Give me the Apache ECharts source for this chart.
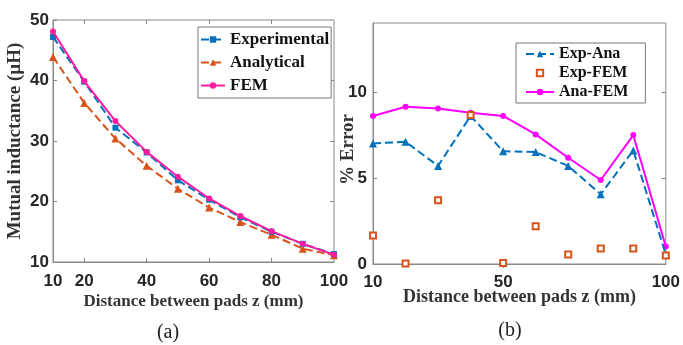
<!DOCTYPE html>
<html>
<head>
<meta charset="utf-8">
<script src="https://cdn.jsdelivr.net/npm/echarts@6/dist/echarts.min.js"></script>
<style>
  html, body { margin: 0; padding: 0; background: #fff; }
  #main { width: 683px; height: 345px; }
</style>
</head>
<body>
<div id="main"></div>
<script>
// (a) mutual inductance vs distance
const distA = [10, 20, 30, 40, 50, 60, 70, 80, 90, 100];
const experimental = [47.2, 39.8, 32.2, 28.1, 23.5, 20.3, 17.4, 15.0, 13.0, 11.3];
const analytical = [43.9, 36.3, 30.4, 25.9, 22.1, 19.0, 16.6, 14.5, 12.2, 11.1];
const fem = [48.1, 39.9, 33.3, 28.2, 24.1, 20.5, 17.6, 15.1, 13.0, 11.2];
const xLabelsA = [10, 20, 40, 60, 80, 100];
const yLabelsA = [10, 20, 30, 40, 50];

// (b) percent error vs distance
const distB = [10, 20, 30, 40, 50, 60, 70, 80, 90, 100];
const expAna = [7.0, 7.1, 5.7, 8.6, 6.55, 6.5, 5.7, 4.05, 6.6, 0.55];
const expFem = [1.65, 0.03, 3.7, 8.65, 0.06, 2.2, 0.55, 0.9, 0.9, 0.5];
const anaFem = [8.6, 9.13, 9.03, 8.78, 8.6, 7.53, 6.17, 4.88, 7.49, 1.02];
const xLabelsB = [10, 50, 100];
const yLabelsB = [0, 5, 10];

const zip = (xs, ys) => xs.map((x, i) => [x, ys[i]]);

const chart = echarts.init(document.getElementById('main'));

const tickFont = { fontFamily: 'Liberation Sans', fontWeight: 'bold', fontSize: 17, color: '#262626' };
const serifBold = (size) => ({ fontFamily: 'Liberation Serif', fontWeight: 'bold', fontSize: size, color: '#333' });
const axisGray = '#888';

// extra top/right axes only carry the inner ticks of the box
function boxAxis(gridIndex, pos, min, max, ticks) {
  return {
    type: 'value', gridIndex, position: pos, min, max,
    axisLine: { show: false },
    axisLabel: { show: false },
    splitLine: { show: false },
    axisTick: { inside: true, length: 4, customValues: ticks, lineStyle: { color: axisGray } }
  };
}

const option = {
  animation: false,
  backgroundColor: '#fff',
  grid: [
    { left: 53, right: 349, top: 20, bottom: 83, show: true, borderColor: axisGray, borderWidth: 1 },
    { left: 373, right: 15, top: 23, bottom: 81, show: true, borderColor: axisGray, borderWidth: 1 }
  ],
  xAxis: [
    {
      type: 'value', gridIndex: 0, min: 10, max: 100,
      name: 'Distance between pads z (mm)', nameLocation: 'middle', nameGap: 31, nameMoveOverlap: false,
      nameTextStyle: serifBold(17),
      axisLine: { lineStyle: { color: axisGray } },
      axisTick: { inside: true, length: 4, customValues: [20, 40, 60, 80], lineStyle: { color: axisGray } },
      axisLabel: Object.assign({ customValues: xLabelsA, margin: 11 }, tickFont),
      splitLine: { show: false }
    },
    boxAxis(0, 'top', 10, 100, [20, 40, 60, 80]),
    {
      type: 'value', gridIndex: 1, min: 10, max: 100,
      name: 'Distance between pads z (mm)', nameLocation: 'middle', nameGap: 24, nameMoveOverlap: false,
      nameTextStyle: serifBold(18),
      axisLine: { lineStyle: { color: axisGray } },
      axisTick: { inside: true, length: 4, customValues: [50], lineStyle: { color: axisGray } },
      axisLabel: Object.assign({ customValues: xLabelsB, margin: 10 }, tickFont),
      splitLine: { show: false }
    },
    boxAxis(1, 'top', 10, 100, [50])
  ],
  yAxis: [
    {
      type: 'value', gridIndex: 0, min: 10, max: 50,
      name: 'Mutual inductance (µH)', nameLocation: 'middle', nameGap: 28, nameMoveOverlap: false,
      nameTextStyle: serifBold(19),
      axisLine: { lineStyle: { color: axisGray } },
      axisTick: { inside: true, length: 4, customValues: yLabelsA, lineStyle: { color: axisGray } },
      axisLabel: Object.assign({ customValues: yLabelsA, margin: 4 }, tickFont),
      splitLine: { show: false }
    },
    boxAxis(0, 'right', 10, 50, [20, 30, 40]),
    {
      type: 'value', gridIndex: 1, min: 0, max: 14,
      name: '% Error', nameLocation: 'middle', nameGap: 15, nameMoveOverlap: false,
      nameTextStyle: Object.assign(serifBold(19), { padding: [0, 12, 0, 0] }),
      axisLine: { lineStyle: { color: axisGray } },
      axisTick: { inside: true, length: 4, customValues: yLabelsB, lineStyle: { color: axisGray } },
      axisLabel: Object.assign({ customValues: yLabelsB, margin: 6 }, tickFont),
      splitLine: { show: false }
    },
    boxAxis(1, 'right', 0, 14, [5, 10])
  ],
  legend: [
    {
      left: 198, top: 27, orient: 'vertical', itemGap: 6, itemWidth: 24, itemHeight: 8,
      padding: [4, 2, 4, 2], borderColor: '#777', borderWidth: 1, backgroundColor: '#fff',
      textStyle: { fontFamily: 'Liberation Serif', fontWeight: 'bold', fontSize: 17, color: '#111' },
      data: ['Experimental', 'Analytical', 'FEM']
    },
    {
      left: 516, top: 43, orient: 'vertical', itemGap: 3, itemWidth: 28, itemHeight: 8,
      padding: [3, 17, 3, 9], borderColor: '#777', borderWidth: 1, backgroundColor: '#fff',
      textStyle: { fontFamily: 'Liberation Serif', fontWeight: 'bold', fontSize: 16, color: '#111' },
      data: ['Exp-Ana', 'Exp-FEM', 'Ana-FEM']
    }
  ],
  series: [
    {
      name: 'Experimental', type: 'line', xAxisIndex: 0, yAxisIndex: 0,
      data: zip(distA, experimental), symbol: 'rect', symbolSize: 6,
      itemStyle: { color: '#0072BD' }, lineStyle: { type: 'dashed', width: 2, color: '#0072BD' }, z: 3
    },
    {
      name: 'Analytical', type: 'line', xAxisIndex: 0, yAxisIndex: 0,
      data: zip(distA, analytical), symbol: 'triangle', symbolSize: 8,
      itemStyle: { color: '#D95319' }, lineStyle: { type: 'dashed', width: 2, color: '#D95319' }, z: 2
    },
    {
      name: 'FEM', type: 'line', xAxisIndex: 0, yAxisIndex: 0,
      data: zip(distA, fem), symbol: 'circle', symbolSize: 6,
      itemStyle: { color: '#FF1C9E' }, lineStyle: { width: 2, color: '#FF1C9E' }, z: 4
    },
    {
      name: 'Exp-Ana', type: 'line', xAxisIndex: 2, yAxisIndex: 2,
      data: zip(distB, expAna), symbol: 'triangle', symbolSize: 8,
      itemStyle: { color: '#0072BD' }, lineStyle: { type: 'dashed', width: 2, color: '#0072BD' }, z: 3
    },
    {
      // markers only: a line series with an invisible line keeps a small square legend icon
      name: 'Exp-FEM', type: 'line', xAxisIndex: 2, yAxisIndex: 2,
      data: zip(distB, expFem), symbol: 'rect', symbolSize: 6, showAllSymbol: true,
      itemStyle: { color: '#fff', borderColor: '#D95319', borderWidth: 2 },
      lineStyle: { opacity: 0 }, z: 4
    },
    {
      name: 'Ana-FEM', type: 'line', xAxisIndex: 2, yAxisIndex: 2,
      data: zip(distB, anaFem), symbol: 'circle', symbolSize: 6,
      itemStyle: { color: '#FF00FF' }, lineStyle: { width: 2, color: '#FF00FF' }, z: 2
    }
  ],
  graphic: [
    { type: 'text', x: 168, y: 333, style: { text: '(a)', font: '20px "Liberation Serif"', fill: '#222', align: 'center', verticalAlign: 'middle' } },
    { type: 'text', x: 510, y: 331, style: { text: '(b)', font: '20px "Liberation Serif"', fill: '#222', align: 'center', verticalAlign: 'middle' } }
  ]
};

chart.setOption(option);
</script>
</body>
</html>
